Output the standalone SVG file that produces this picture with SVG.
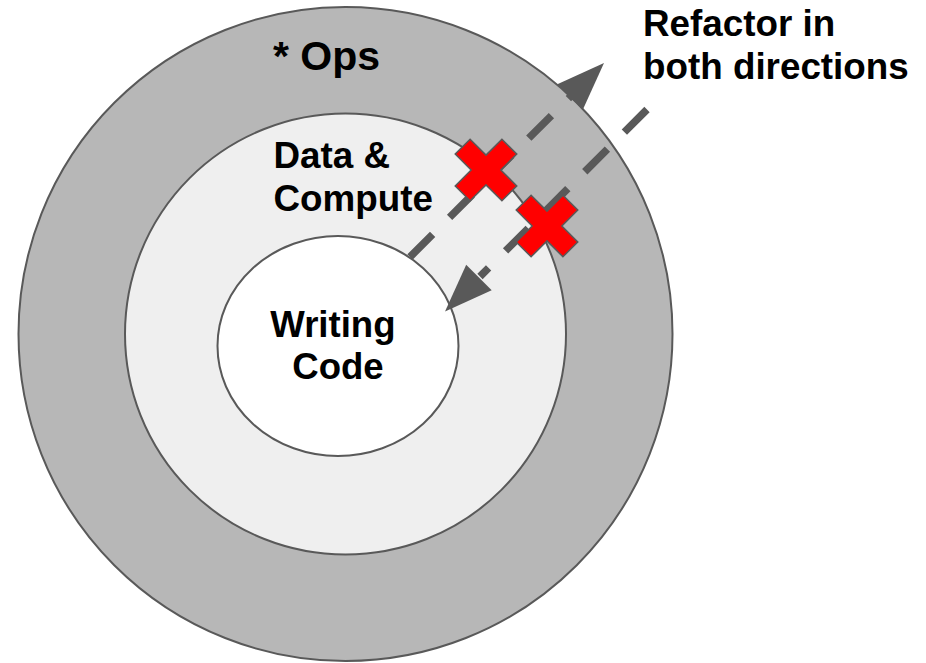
<svg xmlns="http://www.w3.org/2000/svg" width="926" height="663" viewBox="0 0 926 663">
  <style>
    .ring { stroke: #595959; stroke-width: 2; }
    .label { font-family: "Liberation Sans", Arial, sans-serif; font-weight: bold; fill: #000000; }
    .flow { fill: none; stroke: #595959; stroke-width: 7.5; stroke-dasharray: 32 24; stroke-linecap: butt; }
    .head { fill: #595959; }
    .block { fill: #ff0000; stroke: #595959; stroke-width: 1.5; stroke-linejoin: miter; }
  </style>
  <defs>
    <!-- multiply sign: a plus rotated by 45 degrees -->
    <polygon id="cross" points="-10.5,-33 10.5,-33 10.5,-10.5 33,-10.5 33,10.5 10.5,10.5 10.5,33 -10.5,33 -10.5,10.5 -33,10.5 -33,-10.5 -10.5,-10.5" transform="rotate(45)"/>
    <!-- arrowhead pointing along +x, tip at origin -->
    <polygon id="arrowhead" points="0,0 -48,-18 -48,18"/>
  </defs>

  <rect width="926" height="663" fill="#ffffff"/>

  <g id="ops">
    <circle class="ring" cx="345.5" cy="334" r="327" fill="#b7b7b7"/>
    <text class="label" x="273" y="70" font-size="41">* Ops</text>
  </g>

  <g id="data-compute">
    <circle class="ring" cx="345.5" cy="334" r="220.5" fill="#efefef"/>
    <text class="label" font-size="36.8">
      <tspan x="273.5" y="168">Data &amp;</tspan>
      <tspan x="273.5" y="211">Compute</tspan>
    </text>
  </g>

  <g id="writing-code">
    <ellipse class="ring" cx="338" cy="346" rx="120.5" ry="110" fill="#ffffff"/>
    <text class="label" font-size="36.6" text-anchor="middle">
      <tspan x="338" y="337">Writing</tspan>
      <tspan x="338" y="379">Code</tspan>
    </text>
  </g>

  <g id="connectors">
    <!-- outward refactor -->
    <path class="flow" d="M410,257 L570.5,96.5"/>
    <use href="#arrowhead" class="head" transform="translate(604,63) rotate(-45)"/>
    <!-- inward refactor -->
    <path class="flow" d="M647,109.5 L480,276.5"/>
    <use href="#arrowhead" class="head" transform="translate(445,311.5) rotate(135)"/>
  </g>

  <g id="blocker-outward">
    <use href="#cross" class="block" transform="translate(486,170)"/>
  </g>
  <g id="blocker-inward">
    <use href="#cross" class="block" transform="translate(547,226)"/>
  </g>

  <g id="caption">
    <text class="label" font-size="36.8">
      <tspan x="643" y="36">Refactor in</tspan>
      <tspan x="643" y="79">both directions</tspan>
    </text>
  </g>
</svg>
